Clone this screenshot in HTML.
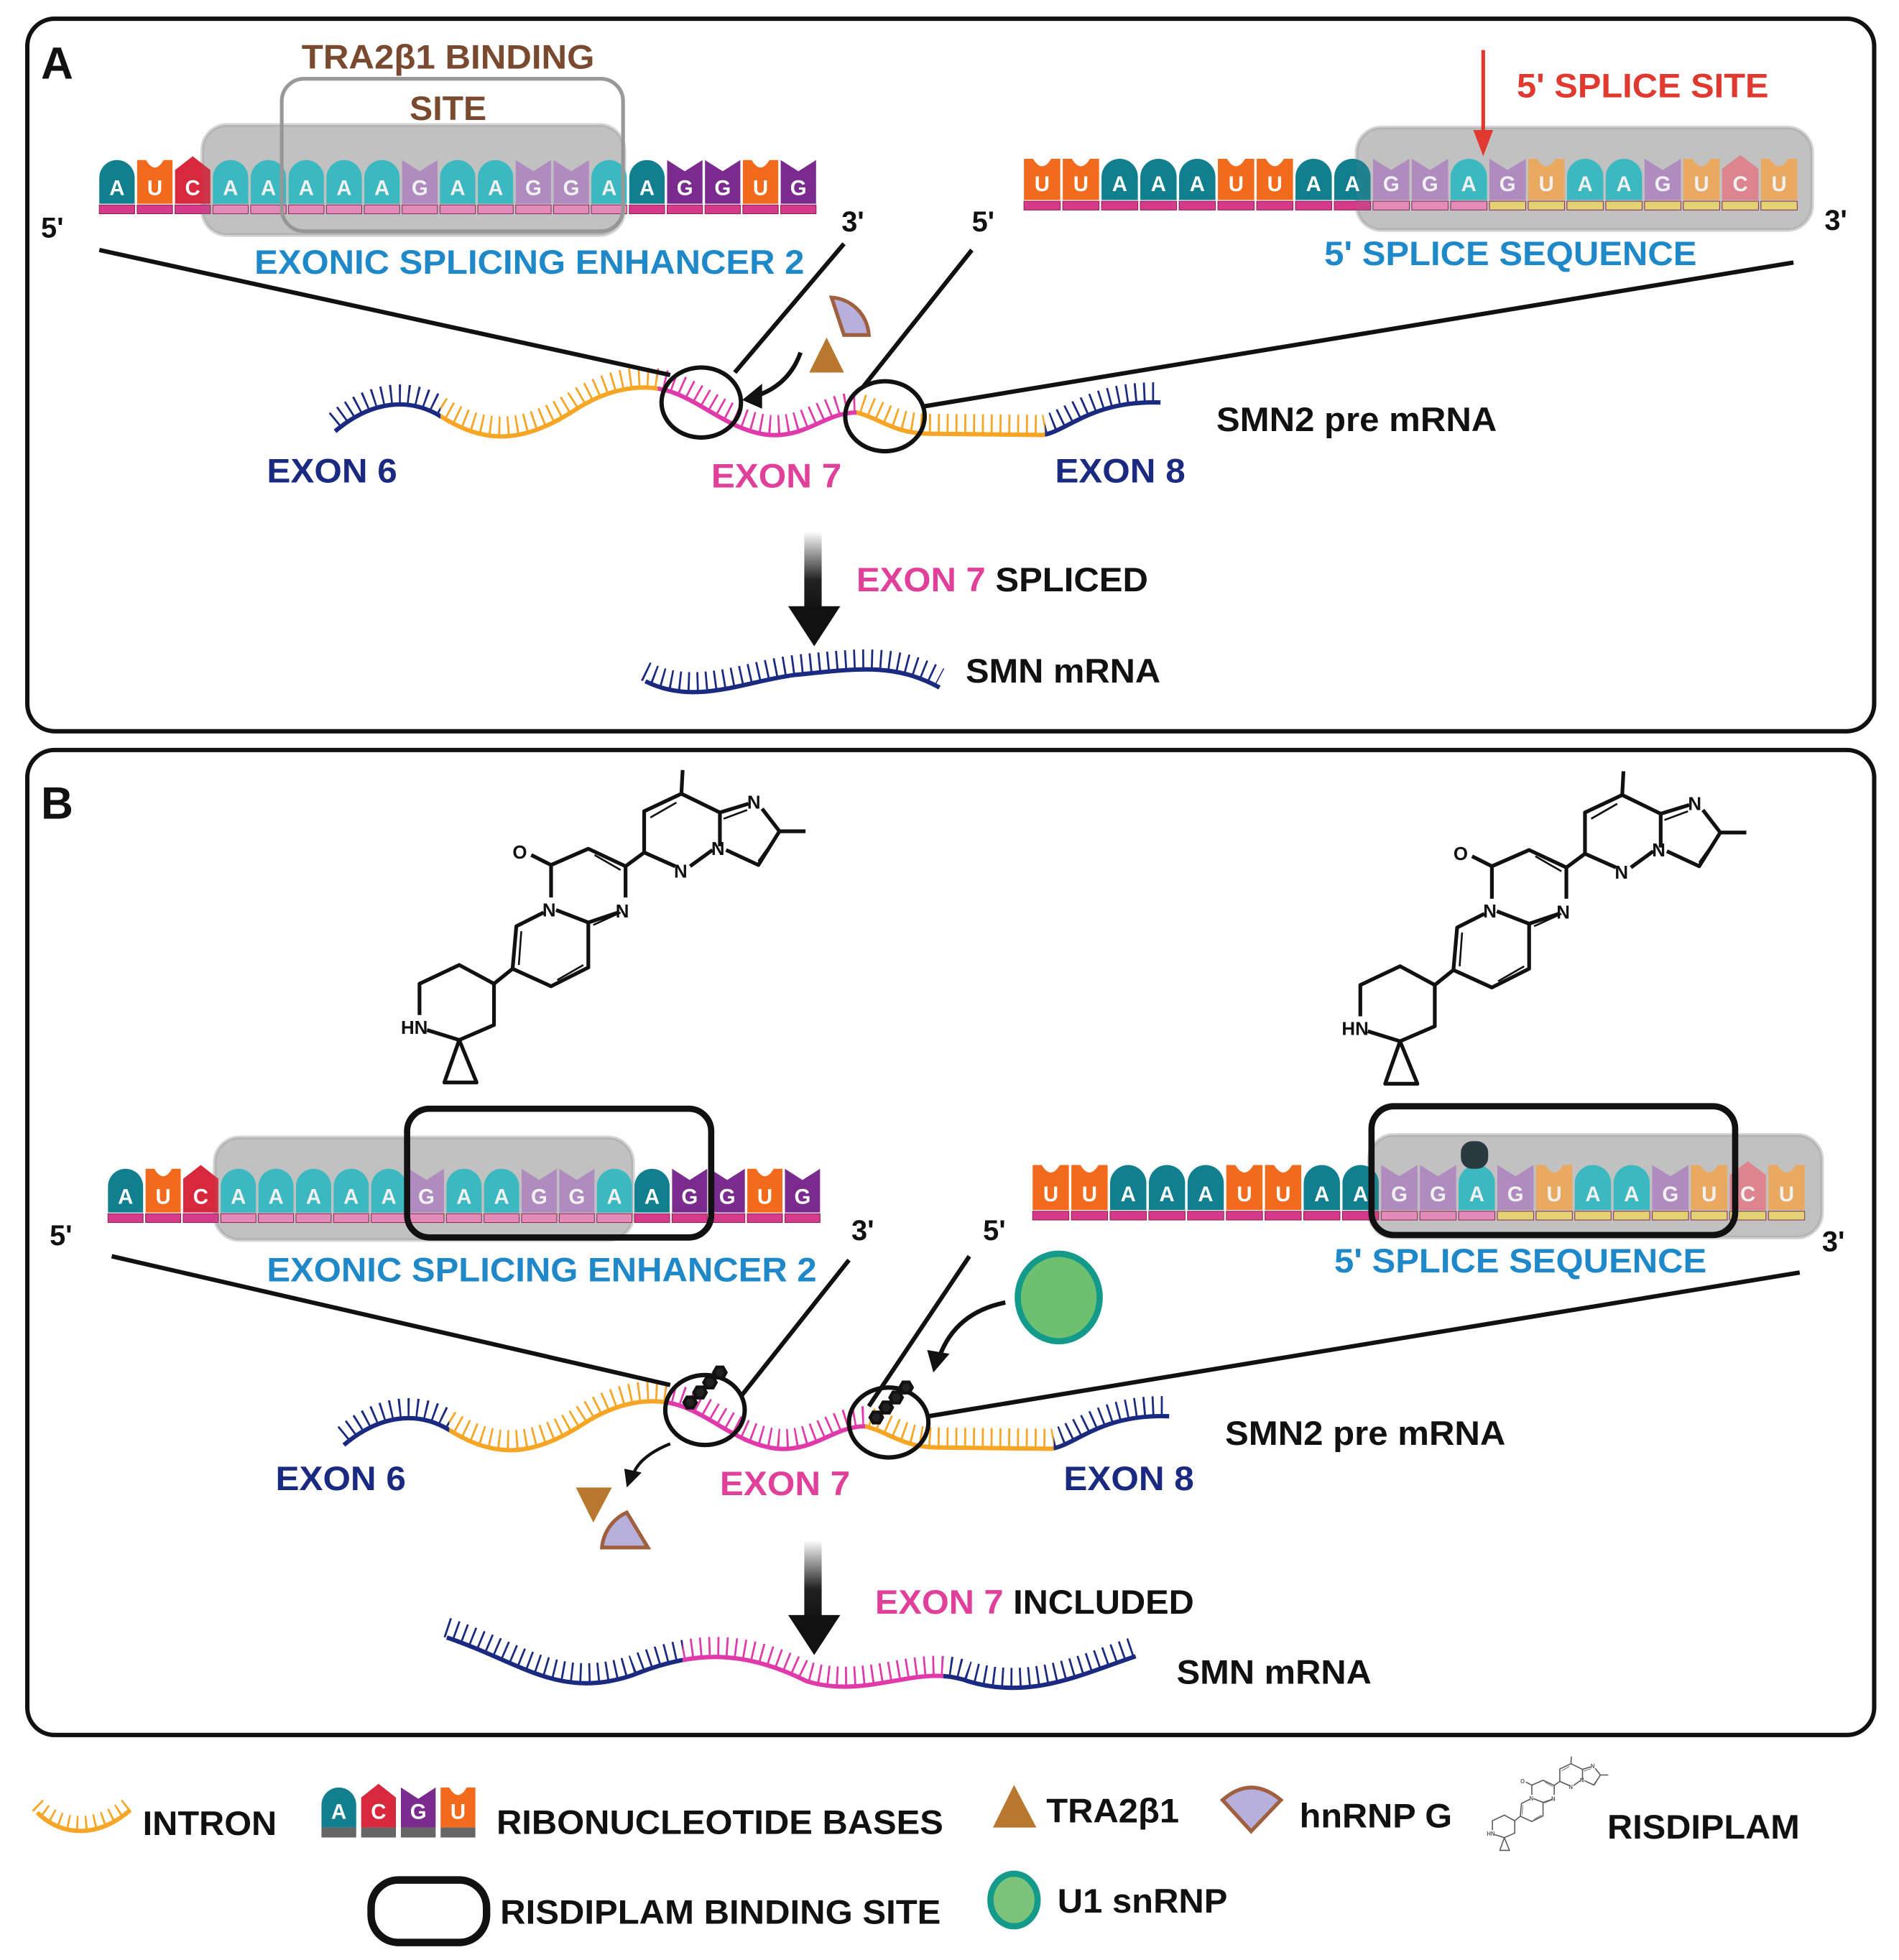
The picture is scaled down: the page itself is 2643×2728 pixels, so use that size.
<!DOCTYPE html>
<html><head><meta charset="utf-8"><style>html,body{margin:0;padding:0;background:#fff}svg{display:block}text{font-family:"Liberation Sans",sans-serif;font-weight:bold}</style></head>
<body>
<svg id="s" width="2643" height="2728" viewBox="0 0 1530 1568" preserveAspectRatio="none" xmlns="http://www.w3.org/2000/svg">
<defs>
<linearGradient id="ag" x1="0" y1="0" x2="0" y2="1"><stop offset="0" stop-color="#fff"/><stop offset="0.6" stop-color="#222"/><stop offset="1" stop-color="#111"/></linearGradient>
<g id="mol" fill="none" stroke="#111" stroke-width="3" stroke-linejoin="round">
<path d="M550,616 L549,635 L519,649 L519,682 L544,693 M556,693 L574,680 M580,677 L580,650 L549,635 M580,650 L603,643 M614,647 L628,665 L649,665 M628,665 L611,692 L585,680"/>
<path d="M519,682 L504,693 L504,718 M498,730 L474,738 L448,728 M444,718 L444,692 L474,679 L504,693 M444,692 L428,684"/>
<path d="M438,730 L416,741 L413,775 L444,789 L474,774 L474,738 M413,775 L398,787 L370,772 L338,787 L338,812 M344,824 L370,832 L398,820 L398,787 M370,832 L358,866 L384,866 Z"/>
<path d="M524,654 L545,642 M523,684 L540,692 M583,655 L602,648 M624,671 L611,689 M479,684 L500,696 M420,745 L418,772 M449,784 L470,772 M478,740 L500,730" stroke-width="1.5"/>
<text x="413" y="687" font-size="15" fill="#111" stroke="none" font-weight="normal">O</text>
<text x="437" y="733" font-size="15" fill="#111" stroke="none" font-weight="normal">N</text>
<text x="496" y="734" font-size="15" fill="#111" stroke="none" font-weight="normal">N</text>
<text x="543" y="702" font-size="15" fill="#111" stroke="none" font-weight="normal">N</text>
<text x="573" y="684" font-size="15" fill="#111" stroke="none" font-weight="normal">N</text>
<text x="602" y="647" font-size="15" fill="#111" stroke="none" font-weight="normal">N</text>
<text x="323" y="827" font-size="15" fill="#111" stroke="none" font-weight="normal">HN</text>
</g>
</defs>
<rect x="22" y="15" width="1488" height="570" rx="22" fill="none" stroke="#111" stroke-width="3.5"/>
<rect x="22" y="600" width="1488" height="788" rx="22" fill="none" stroke="#111" stroke-width="3.5"/>
<text x="33" y="63" font-size="36" fill="#111">A</text>
<text x="33" y="655" font-size="36" fill="#111">B</text>
<g id="dyn"></g>
<!-- Panel A texts -->
<text x="243" y="55" font-size="27" fill="#7a4a30" textLength="236" lengthAdjust="spacingAndGlyphs">TRA2β1 BINDING</text>
<text x="330" y="96" font-size="27" fill="#7a4a30" textLength="62" lengthAdjust="spacingAndGlyphs">SITE</text>
<text x="1222" y="78" font-size="27" fill="#e03a30" textLength="203" lengthAdjust="spacingAndGlyphs">5' SPLICE SITE</text>
<path d="M1195,40 V110" stroke="#e03a30" stroke-width="3"/><path d="M1187,104 L1203,104 L1195,125 Z" fill="#e03a30"/>
<text x="205" y="219" font-size="27" fill="#1e88c8" textLength="443" lengthAdjust="spacingAndGlyphs">EXONIC SPLICING ENHANCER 2</text>
<text x="1067" y="212" font-size="27" fill="#1e88c8" textLength="300" lengthAdjust="spacingAndGlyphs">5' SPLICE SEQUENCE</text>
<text x="33" y="190" font-size="23" fill="#111">5'</text><text x="678" y="185" font-size="23" fill="#111">3'</text>
<text x="783" y="185" font-size="23" fill="#111">5'</text><text x="1470" y="184" font-size="23" fill="#111">3'</text>
<g stroke="#111" stroke-width="3.5"><path d="M80,200 L540,300 M680,195 L592,298 M783,200 L695,310 M1445,210 L745,325"/></g>
<text x="215" y="386" font-size="27" fill="#1a2a80" textLength="105" lengthAdjust="spacingAndGlyphs">EXON 6</text>
<text x="573" y="390" font-size="27" fill="#e0409a" textLength="105" lengthAdjust="spacingAndGlyphs">EXON 7</text>
<text x="850" y="386" font-size="27" fill="#1a2a80" textLength="105" lengthAdjust="spacingAndGlyphs">EXON 8</text>
<text x="980" y="345" font-size="27" fill="#111" textLength="226" lengthAdjust="spacingAndGlyphs">SMN2 pre mRNA</text>
<path d="M670,238 A32,32 0 0 1 700,268 L680,268 Z" fill="#b8b0dc" stroke="#a06040" stroke-width="3"/>
<path d="M666,270 L680,298 L652,298 Z" fill="#b87830"/>
<path d="M645,282 Q635,310 605,318" fill="none" stroke="#111" stroke-width="3.5"/><path d="M598,320 L614,307 L614,327 Z" fill="#111"/>
<rect x="648" y="425" width="14" height="65" fill="url(#ag)"/><path d="M635,485 L677,485 L656,517 Z" fill="#111"/>
<text x="690" y="473" font-size="27" fill="#e0409a" textLength="235" lengthAdjust="spacingAndGlyphs">EXON 7 <tspan fill="#111">SPLICED</tspan></text>
<text x="778" y="546" font-size="27" fill="#111" textLength="157" lengthAdjust="spacingAndGlyphs">SMN mRNA</text>
<!-- Panel B -->
<use href="#mol"/><use href="#mol" transform="translate(758,1)"/>
<text x="215" y="1025" font-size="27" fill="#1e88c8" textLength="443" lengthAdjust="spacingAndGlyphs">EXONIC SPLICING ENHANCER 2</text>
<text x="1075" y="1018" font-size="27" fill="#1e88c8" textLength="300" lengthAdjust="spacingAndGlyphs">5' SPLICE SEQUENCE</text>
<text x="40" y="996" font-size="23" fill="#111">5'</text><text x="686" y="992" font-size="23" fill="#111">3'</text>
<text x="792" y="992" font-size="23" fill="#111">5'</text><text x="1468" y="1001" font-size="23" fill="#111">3'</text>
<g stroke="#111" stroke-width="3.5"><path d="M90,1005 L540,1108 M684,1008 L597,1117 M781,1005 L700,1125 M1450,1018 L748,1133"/></g>
<text x="222" y="1192" font-size="27" fill="#1a2a80" textLength="105" lengthAdjust="spacingAndGlyphs">EXON 6</text>
<text x="580" y="1196" font-size="27" fill="#e0409a" textLength="105" lengthAdjust="spacingAndGlyphs">EXON 7</text>
<text x="857" y="1192" font-size="27" fill="#1a2a80" textLength="105" lengthAdjust="spacingAndGlyphs">EXON 8</text>
<text x="987" y="1156" font-size="27" fill="#111" textLength="226" lengthAdjust="spacingAndGlyphs">SMN2 pre mRNA</text>
<ellipse cx="853" cy="1038" rx="33" ry="35" fill="#6cc070" stroke="#139a8a" stroke-width="5"/>
<path d="M810,1042 Q770,1050 757,1085" fill="none" stroke="#111" stroke-width="3.5"/><path d="M752,1098 L747,1080 L765,1083 Z" fill="#111"/>
<path d="M540,1155 Q515,1165 510,1180" fill="none" stroke="#111" stroke-width="2.5"/><path d="M505,1190 L503,1175 L517,1178 Z" fill="#111"/>
<path d="M478,1190 L492,1218 L463,1218 Z" fill="#b87830" transform="rotate(180 478 1204)"/>
<path d="M485,1238 A34,34 0 0 1 505,1210 L522,1238 Z" fill="#b8b0dc" stroke="#a06040" stroke-width="3"/>
<rect x="648" y="1232" width="14" height="65" fill="url(#ag)"/><path d="M635,1292 L677,1292 L656,1324 Z" fill="#111"/>
<text x="705" y="1291" font-size="27" fill="#e0409a" textLength="257" lengthAdjust="spacingAndGlyphs">EXON 7 <tspan fill="#111">INCLUDED</tspan></text>
<text x="948" y="1347" font-size="27" fill="#111" textLength="157" lengthAdjust="spacingAndGlyphs">SMN mRNA</text>
<!-- Legend -->
<text x="115" y="1468" font-size="27" fill="#111" textLength="108" lengthAdjust="spacingAndGlyphs">INTRON</text>
<text x="400" y="1467" font-size="27" fill="#111" textLength="360" lengthAdjust="spacingAndGlyphs">RIBONUCLEOTIDE BASES</text>
<path d="M817,1428 L835,1462 L800,1462 Z" fill="#b87830"/>
<text x="843" y="1458" font-size="27" fill="#111" textLength="107" lengthAdjust="spacingAndGlyphs">TRA2β1</text>
<path d="M985,1440 Q1008,1420 1032,1440 L1008,1465 Z" fill="#b8b0dc" stroke="#a06040" stroke-width="3"/>
<text x="1047" y="1462" font-size="27" fill="#111" textLength="123" lengthAdjust="spacingAndGlyphs">hnRNP G</text>
<g transform="translate(1200,1405) scale(0.3) translate(-330,-615)" opacity="0.7"><use href="#mol"/></g>
<text x="1295" y="1471" font-size="27" fill="#111" textLength="155" lengthAdjust="spacingAndGlyphs">RISDIPLAM</text>
<rect x="299" y="1504" width="93" height="50" rx="22" fill="none" stroke="#111" stroke-width="6"/>
<text x="403" y="1539" font-size="27" fill="#111" textLength="355" lengthAdjust="spacingAndGlyphs">RISDIPLAM BINDING SITE</text>
<ellipse cx="817" cy="1520" rx="19" ry="21" fill="#7cc47a" stroke="#139a8a" stroke-width="5"/>
<text x="852" y="1530" font-size="27" fill="#111" textLength="137" lengthAdjust="spacingAndGlyphs">U1 snRNP</text>
</svg>
<script>
var NS="http://www.w3.org/2000/svg",D=document.getElementById("dyn");
function el(t,a,p){var e=document.createElementNS(NS,t);for(var k in a)e.setAttribute(k,a[k]);(p||D).appendChild(e);return e;}
function base(x,y,w,h,L,c){var d;var m=x+w/2;
 if(L=="A")d="M"+x+","+(y+h)+" L"+x+","+(y+w/2)+" A"+w/2+","+w/2+" 0 0 1 "+(x+w)+","+(y+w/2)+" L"+(x+w)+","+(y+h)+"Z";
 else if(L=="U")d="M"+x+","+y+" L"+(x+w*0.25)+","+y+" Q"+m+","+(y+12)+" "+(x+w*0.75)+","+y+" L"+(x+w)+","+y+" L"+(x+w)+","+(y+h)+" L"+x+","+(y+h)+"Z";
 else if(L=="G")d="M"+x+","+y+" L"+m+","+(y+9)+" L"+(x+w)+","+y+" L"+(x+w)+","+(y+h)+" L"+x+","+(y+h)+"Z";
 else d="M"+x+","+(y+8)+" L"+m+","+(y-3)+" L"+(x+w)+","+(y+8)+" L"+(x+w)+","+(y+h)+" L"+x+","+(y+h)+"Z";
 el("path",{d:d,fill:c});var t=el("text",{x:m,y:y+h-7,"font-size":17,fill:"#fff","text-anchor":"middle"});t.textContent=L;}
var C={A:"#127f8f",a:"#31bfc9",U:"#f26b1d",u:"#f7ae5a",G:"#7b2a8e",g:"#b58bc8",C:"#d8283e",c:"#e8848f"};
var S={m:"#d63a8a",p:"#f08cc0",y:"#f0dc70",k:"#555"};
function row(x0,y,w,h,seq,st){for(var i=0;i<seq.length;i++){var x=x0+i*w;base(x+1,y,w-2,h,seq[i].toUpperCase(),C[seq[i]]);el("rect",{x:x+1,y:y+h+1,width:w-2,height:7,fill:S[st[i]],stroke:"#8a2050","stroke-width":0.6});}}
function hl(x,y,w,h){el("rect",{x:x,y:y,width:w,height:h,rx:20,fill:"#888","fill-opacity":0.45,stroke:"#aaa","stroke-opacity":0.5,"stroke-width":3});}
// panel A
hl(163,100,340,88);
hl(1093,102,367,82);
row(79,128,30.5,35,"AUCaaaaagaaggaAGGUG","mmmpppppppppppmmmmm");
el("rect",{x:227,y:63,width:275,height:122,rx:18,fill:"none",stroke:"#999","stroke-width":3});
row(824,127,31.25,33,"UUAAAUUAAggaguaagucu","mmmmmmmmmpppyyyyyyyy");
el("rect",{x:1093,y:102,width:367,height:82,rx:20,fill:"#888","fill-opacity":0.12});
el("rect",{x:163,y:100,width:340,height:88,rx:20,fill:"#888","fill-opacity":0.12});
// panel B
hl(173,910,337,82);
hl(1103,908,365,82);
row(86,935,30.3,35,"AUCaaaaagaaggaAGGUG","mmmpppppppppppmmmmm");
row(831,932,31.2,36,"UUAAAUUAAggaguaagucu","mmmmmmmmmpppyyyyyyyy");
el("rect",{x:173,y:910,width:337,height:82,rx:20,fill:"#888","fill-opacity":0.12});
el("rect",{x:1103,y:908,width:365,height:82,rx:20,fill:"#888","fill-opacity":0.12});
el("rect",{x:1177,y:913,width:22,height:22,rx:9,fill:"#2a3a40"});
el("rect",{x:328,y:887,width:245,height:103,rx:18,fill:"none",stroke:"#111","stroke-width":5});
el("rect",{x:1105,y:885,width:293,height:103,rx:18,fill:"none",stroke:"#111","stroke-width":5});
// waves
var cid=0;
function wave(d,segs,dy){for(var i=0;i<segs.length;i++){var s=segs[i];cid++;var cp=el("clipPath",{id:"c"+cid});el("rect",{x:s[0],y:0,width:s[1]-s[0],height:1568},cp);
 var g=el("g",{"clip-path":"url(#c"+cid+")"});
 el("path",{d:d,fill:"none",stroke:s[2],"stroke-width":3.5},g);
 el("path",{d:d,fill:"none",stroke:s[2],"stroke-width":dy*2,"stroke-dasharray":"1.6 5.5",transform:"translate(0,"+(-dy)+")"},g);}}
var N="#1a2a80",P="#e03aaa",O="#f6a524";
var wA="M270,345 C300,320 330,318 355,333 C390,355 420,355 460,330 C490,310 520,305 545,315 C570,325 590,345 620,348 C650,350 665,330 690,330 C710,335 720,347 750,347 L840,348 C860,345 880,320 935,322";
wave(wA,[[260,355,N],[355,530,O],[530,690,P],[690,842,O],[842,945,N]],8);
var wB="M277,1156 C307,1131 337,1129 362,1144 C397,1166 427,1166 467,1141 C497,1121 527,1116 552,1126 C577,1136 597,1156 627,1159 C657,1161 672,1141 697,1141 C717,1146 727,1158 757,1158 L847,1159 C867,1156 887,1131 942,1133";
wave(wB,[[267,362,N],[362,537,O],[537,697,P],[697,849,O],[849,952,N]],8);
wave("M520,545 C560,565 600,545 640,540 C690,535 720,530 757,550",[[510,770,N]],8);
wave("M360,1310 C420,1330 450,1360 510,1340 C560,1320 600,1320 650,1345 C700,1360 740,1330 780,1345 C830,1360 870,1340 915,1325",[[350,550,N],[550,760,P],[760,925,N]],8);
wave("M30,1450 C50,1470 80,1470 105,1448",[[20,115,O]],6);
// circles
[[565,322],[713,333],[568,1128],[716,1138]].forEach(function(c){el("ellipse",{cx:c[0],cy:c[1],rx:32,ry:28,fill:"none",stroke:"#111","stroke-width":3.5});});
// small drug marks in B circles
[[568,1110],[718,1122]].forEach(function(c){for(var k=0;k<4;k++){el("polygon",{points:[0,1,2,3,4,5].map(function(j){var a=j*Math.PI/3;return (c[0]-12+k*8+5*Math.cos(a))+","+(c[1]+12-k*8+5*Math.sin(a));}).join(" "),fill:"#222",stroke:"#111","stroke-width":2.5});}});
// legend bases
var lx=258;["A","C","G","U"].forEach(function(L,i){base(lx+i*32+1,1430,28,32,L,C[L]);el("rect",{x:lx+i*32+1,y:1462,width:28,height:8,fill:"#666"});});
</script>
</body></html>
